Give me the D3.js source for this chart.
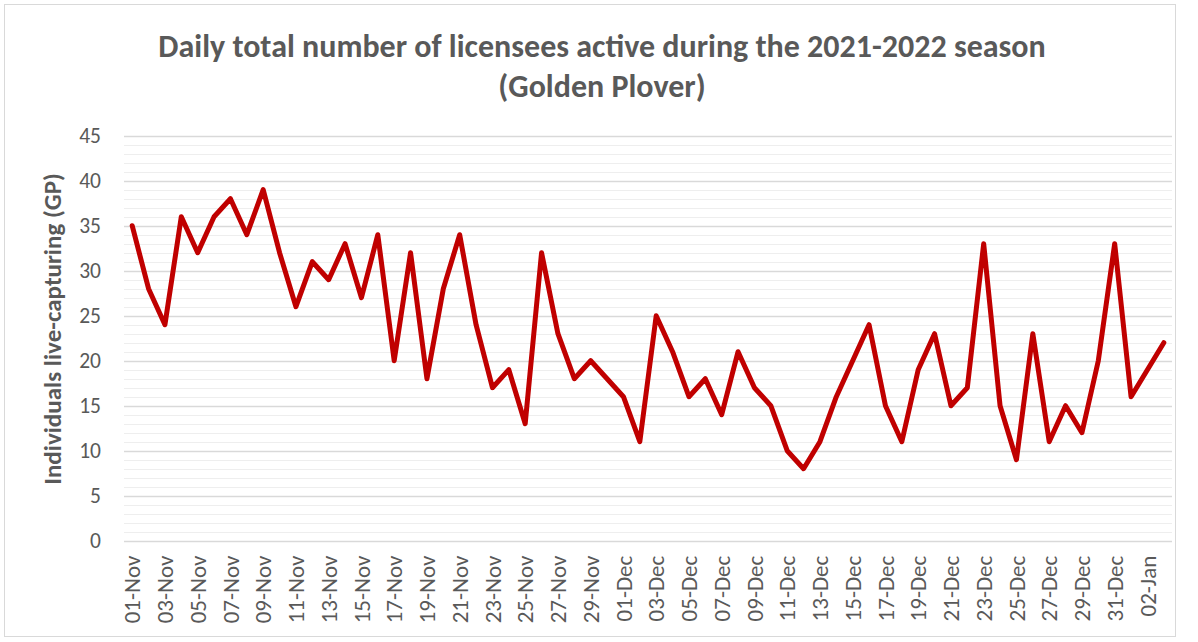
<!DOCTYPE html>
<meta charset='utf-8'>
<head>
<script src='https://d3js.org/d3.v7.min.js'></script>
<style>
  body{
    margin: 0;
    background: #fff;
  }
  text{
    font-family: Carlito, Calibri, 'Noto Sans', sans-serif;
    fill: #595959;
  }
</style>
</head>
<body>
<svg id="chart"></svg>
<script>

  // one point per day, 01-Nov-2021 .. 03-Jan-2022
  var days = d3.timeDays(new Date(2021, 10, 1), new Date(2022, 0, 4));

  var novCounts = [35,28,24,36,32,36,38,34,39,32,26,31,29,33,27,34,20,32,18,28,34,24,17,19,13,32,23,18,20,18];
  var decCounts = [16,11,25,21,16,18,14,21,17,15,10,8,11,16,20,24,15,11,19,23,15,17,33,15,9,23,11,15,12,20,33];
  var janCounts = [16,19,22];

  var counts = novCounts.concat(decCounts, janCounts);

  var yTicks = [0,5,10,15,20,25,30,35,40,45];
  var titleLines = ['Daily total number of licensees active during the 2021-2022 season', '(Golden Plover)'];
  var yTitle = 'Individuals live-capturing (GP)';

  var width = 1198,
      height = 642,
      margin = {top: 135.7, right: 26, bottom: 101.3, left: 124};

  var fmt = d3.timeFormat('%d-%b');

  var data = days.map(function(d, i) { return {day: fmt(d), value: counts[i]}; });

  var svg = d3.select('#chart')
      .attr('width', width)
      .attr('height', height);

  // chart border
  svg.append('rect')
      .attr('x', 4.5)
      .attr('y', 4.5)
      .attr('width', 1171)
      .attr('height', 632)
      .attr('fill', '#fff')
      .attr('stroke', '#d9d9d9')
      .attr('stroke-width', 1);

  var x = d3.scaleBand()
      .domain(data.map(function(d) { return d.day; }))
      .range([margin.left, width - margin.right]);

  var y = d3.scaleLinear()
      .domain([0, 45])
      .range([height - margin.bottom, margin.top]);

  // minor gridlines (every 1)
  svg.append('g')
      .selectAll('line')
      .data(d3.range(0, 46).filter(function(v) { return v % 5 !== 0; }))
      .enter().append('line')
      .attr('x1', margin.left)
      .attr('x2', width - margin.right)
      .attr('y1', function(d) { return Math.round(y(d)) + 0.5; })
      .attr('y2', function(d) { return Math.round(y(d)) + 0.5; })
      .attr('stroke', '#eeeeee')
      .attr('stroke-width', 1);

  // major gridlines
  svg.append('g')
      .selectAll('line')
      .data(yTicks)
      .enter().append('line')
      .attr('x1', margin.left)
      .attr('x2', width - margin.right)
      .attr('y1', function(d) { return Math.round(y(d)) + 0.5; })
      .attr('y2', function(d) { return Math.round(y(d)) + 0.5; })
      .attr('stroke', '#d9d9d9')
      .attr('stroke-width', 1.3);

  // y axis labels
  var yAxis = svg.append('g')
      .attr('transform', 'translate(' + margin.left + ',0)')
      .call(d3.axisLeft(y).tickValues(yTicks).tickSize(0).tickPadding(23));
  yAxis.select('.domain').remove();
  yAxis.selectAll('text')
      .style('font-size', '21.5px')
      .attr('fill', '#595959');

  // x axis labels, every second day
  var xAxis = svg.append('g')
      .attr('transform', 'translate(0,' + (height - margin.bottom) + ')')
      .call(d3.axisBottom(x)
        .tickValues(x.domain().filter(function(d, i) { return i % 2 === 0; }))
        .tickSize(0));
  xAxis.select('.domain').remove();
  xAxis.selectAll('text')
      .style('font-size', '23px')
      .attr('fill', '#595959')
      .attr('transform', 'rotate(-90)')
      .attr('text-anchor', 'end')
      .attr('x', -15)
      .attr('y', 0)
      .attr('dy', '0.36em');

  // the line
  var line = d3.line()
      .x(function(d) { return x(d.day) + x.bandwidth() / 2; })
      .y(function(d) { return y(d.value); });

  svg.append('path')
      .datum(data)
      .attr('d', line)
      .attr('fill', 'none')
      .attr('stroke', '#c00000')
      .attr('stroke-width', 5)
      .attr('stroke-linejoin', 'round')
      .attr('stroke-linecap', 'round');

  // title
  svg.append('g')
      .selectAll('text')
      .data(titleLines)
      .enter().append('text')
      .attr('x', 602)
      .attr('y', function(d, i) { return 57 + i * 40; })
      .attr('text-anchor', 'middle')
      .style('font-size', '32px')
      .style('font-weight', 'bold')
      .text(function(d) { return d; });

  // y axis title
  svg.append('text')
      .attr('transform', 'translate(52,329) rotate(-90)')
      .attr('text-anchor', 'middle')
      .attr('dy', '0.35em')
      .style('font-size', '25px')
      .style('font-weight', 'bold')
      .text(yTitle);

</script>
</body>
</html>
